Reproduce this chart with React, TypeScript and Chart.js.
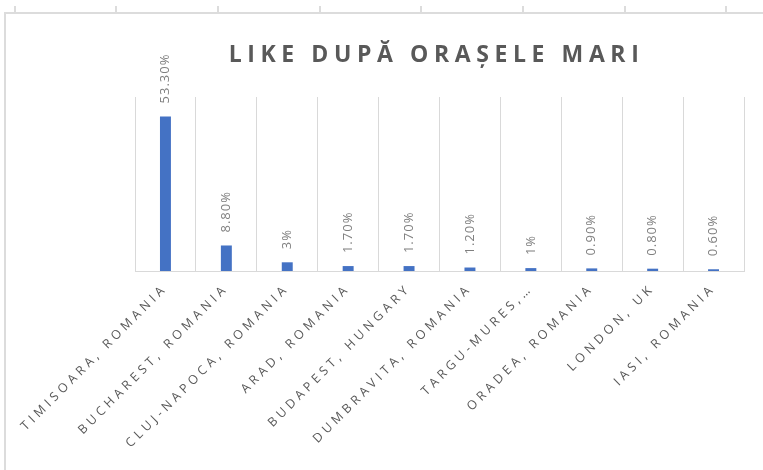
import React, { useEffect, useRef } from 'react';
import { Chart, registerables } from 'chart.js';

Chart.register(...registerables);

const chartTitle = 'LIKE DUPĂ ORAȘELE MARI';
const cities = [
  'TIMISOARA, ROMANIA',
  'BUCHAREST, ROMANIA',
  'CLUJ-NAPOCA, ROMANIA',
  'ARAD, ROMANIA',
  'BUDAPEST, HUNGARY',
  'DUMBRAVITA, ROMANIA',
  'TARGU-MURES,…',
  'ORADEA, ROMANIA',
  'LONDON, UK',
  'IASI, ROMANIA',
];
const likeShares = [53.3, 8.8, 3, 1.7, 1.7, 1.2, 1, 0.9, 0.8, 0.6];
const likeShareLabels = ['53.30%', '8.80%', '3%', '1.70%', '1.70%', '1.20%', '1%', '0.90%', '0.80%', '0.60%'];

const FONT = '"Open Sans", "DejaVu Sans", sans-serif';
const TICK_SPACING = '4px';

const framePlugin = {
  id: 'sheetFrame',
  beforeLayout(chart: any) {
    chart.ctx.letterSpacing = TICK_SPACING;
  },
  beforeDraw(chart: any) {
    const { ctx, width, height } = chart;
    ctx.save();
    ctx.letterSpacing = '0px';
    ctx.fillStyle = '#ffffff';
    ctx.fillRect(0, 0, width, height);
    ctx.strokeStyle = '#dcdcdc';
    ctx.lineWidth = 2;
    ctx.beginPath();
    ctx.moveTo(4, 13);
    ctx.lineTo(width, 13);
    ctx.moveTo(5, 13);
    ctx.lineTo(5, height);
    ctx.stroke();
    ctx.beginPath();
    for (let x = 14.5; x < width; x += 101.7) {
      ctx.moveTo(Math.round(x), 6);
      ctx.lineTo(Math.round(x), 13);
    }
    ctx.stroke();
    ctx.restore();
    ctx.letterSpacing = TICK_SPACING;
  },
  afterDatasetsDraw(chart: any) {
    const { ctx } = chart;
    const meta = chart.getDatasetMeta(0);
    meta.data.forEach((bar: any, i: number) => {
      const { x, y } = bar.getProps(['x', 'y'], true);
      ctx.save();
      ctx.letterSpacing = '1px';
      ctx.translate(x, y - 13);
      ctx.rotate(-Math.PI / 2);
      ctx.font = `13px ${FONT}`;
      ctx.fillStyle = '#7f7f7f';
      ctx.textAlign = 'left';
      ctx.textBaseline = 'middle';
      ctx.fillText(likeShareLabels[i], 0, 0);
      ctx.restore();
    });
  },
  afterDraw(chart: any) {
    const { ctx, chartArea } = chart;
    ctx.save();
    ctx.letterSpacing = '5.6px';
    ctx.font = `bold 23px ${FONT}`;
    ctx.fillStyle = '#595959';
    ctx.textAlign = 'center';
    ctx.textBaseline = 'alphabetic';
    ctx.fillText(chartTitle, (chartArea.left + chartArea.right) / 2 - 3, 62);
    ctx.restore();
    ctx.letterSpacing = '0px';
  },
};

export default function App() {
  const ref = useRef<HTMLCanvasElement | null>(null);
  useEffect(() => {
    document.body.style.margin = '0';
    const canvas = ref.current;
    if (!canvas) return;
    const chart = new Chart(canvas, {
      type: 'bar',
      data: {
        labels: cities,
        datasets: [
          {
            data: likeShares,
            backgroundColor: '#4472C4',
            borderWidth: 0,
            barPercentage: 0.18,
            categoryPercentage: 1,
          },
        ],
      },
      options: {
        animation: false,
        responsive: false,
        devicePixelRatio: 1,
        layout: { padding: { left: 135, right: 19, top: 97, bottom: 0 } },
        plugins: {
          legend: { display: false },
          title: { display: false },
          tooltip: { enabled: false },
        },
        scales: {
          x: {
            grid: { color: '#d9d9d9', lineWidth: 1, drawTicks: false, offset: true },
            border: { display: true, color: '#d9d9d9', width: 1 },
            ticks: {
              autoSkip: false,
              minRotation: 45,
              maxRotation: 45,
              padding: 10,
              color: '#595959',
              font: { family: FONT, size: 12.5 },
            },
            afterFit: (scale: any) => {
              scale.height = 199;
              scale.paddingLeft = 0;
              scale.paddingRight = 0;
            },
          },
          y: {
            display: false,
            min: 0,
            max: 60,
          },
        },
      },
      plugins: [framePlugin],
    });
    return () => chart.destroy();
  }, []);
  return <canvas ref={ref} width={763} height={470} style={{ display: 'block' }} />;
}
